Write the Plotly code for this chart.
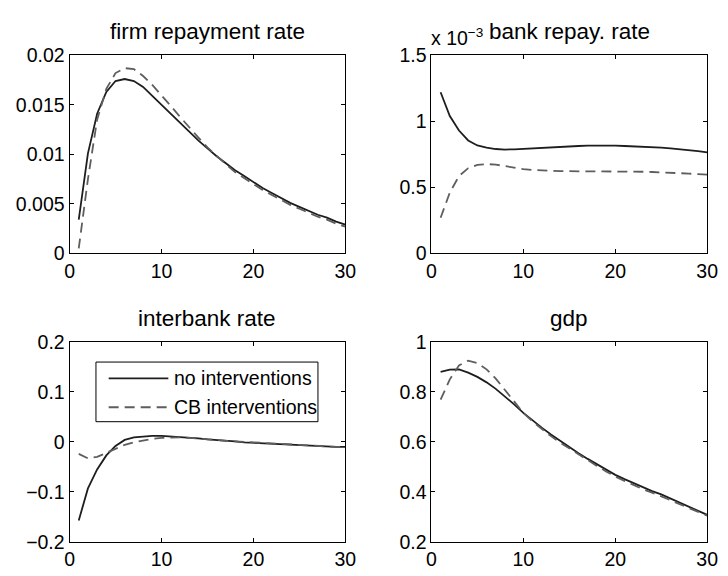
import plotly.graph_objects as go

# ---------------- data ----------------
t = list(range(1, 31))

firm_no = [0.0034, 0.0101, 0.0141, 0.0163, 0.0174, 0.0176, 0.0174, 0.0168, 0.0159, 0.0150,
           0.0141, 0.0131, 0.0122, 0.0114, 0.0106, 0.0098, 0.0091, 0.0084, 0.0078, 0.0072,
           0.0066, 0.0061, 0.0056, 0.0051, 0.0047, 0.0043, 0.0039, 0.0036, 0.0032, 0.0029]
firm_cb = [0.0005, 0.0075, 0.0135, 0.0166, 0.0182, 0.0187, 0.0186, 0.0179, 0.0170, 0.0160,
           0.0149, 0.0138, 0.0127, 0.0117, 0.0107, 0.0098, 0.0090, 0.0082, 0.0076, 0.0070,
           0.0064, 0.0059, 0.0054, 0.0049, 0.0045, 0.0041, 0.0037, 0.0034, 0.0030, 0.0027]

# bank repayment rate, in units of 1e-3
bank_no = [1.22, 1.04, 0.93, 0.855, 0.817, 0.800, 0.790, 0.786, 0.788, 0.792,
           0.797, 0.801, 0.805, 0.808, 0.811, 0.813, 0.815, 0.816, 0.816, 0.815,
           0.813, 0.811, 0.808, 0.804, 0.800, 0.795, 0.789, 0.782, 0.774, 0.765]
bank_cb = [0.27, 0.46, 0.585, 0.645, 0.670, 0.676, 0.672, 0.660, 0.648, 0.638,
           0.631, 0.627, 0.625, 0.623, 0.622, 0.622, 0.622, 0.622, 0.622, 0.621,
           0.620, 0.619, 0.618, 0.616, 0.614, 0.611, 0.608, 0.604, 0.600, 0.596]

ib_no = [-0.157, -0.093, -0.055, -0.027, -0.008, 0.004, 0.009, 0.011, 0.012, 0.012,
         0.011, 0.010, 0.008, 0.007, 0.005, 0.004, 0.002, 0.001, -0.001, -0.002,
         -0.003, -0.004, -0.005, -0.006, -0.007, -0.008, -0.009, -0.009, -0.010, -0.010]
ib_cb = [-0.024, -0.033, -0.030, -0.022, -0.013, -0.006, -0.001, 0.003, 0.006, 0.008,
         0.009, 0.009, 0.008, 0.007, 0.005, 0.004, 0.002, 0.001, -0.001, -0.002,
         -0.003, -0.004, -0.005, -0.006, -0.007, -0.008, -0.009, -0.009, -0.010, -0.010]

gdp_no = [0.880, 0.889, 0.890, 0.877, 0.860, 0.838, 0.812, 0.782, 0.750, 0.716,
          0.686, 0.657, 0.630, 0.604, 0.579, 0.555, 0.532, 0.510, 0.489, 0.468,
          0.451, 0.434, 0.418, 0.403, 0.390, 0.373, 0.356, 0.340, 0.324, 0.308]
gdp_cb = [0.769, 0.850, 0.906, 0.925, 0.915, 0.890, 0.853, 0.808, 0.762, 0.716,
          0.682, 0.651, 0.623, 0.597, 0.573, 0.549, 0.526, 0.504, 0.482, 0.461,
          0.444, 0.427, 0.411, 0.397, 0.383, 0.367, 0.351, 0.335, 0.320, 0.305]

titles = ["firm repayment rate", "bank repay. rate", "interbank rate", "gdp"]
series_names = ["no interventions", "CB interventions"]

x_ticks = [0, 10, 20, 30]
y1_ticks = [0, 0.005, 0.01, 0.015, 0.02]
y1_text = ["0", "0.005", "0.01", "0.015", "0.02"]
y2_ticks = [0, 0.5, 1, 1.5]
y2_text = ["0", "0.5", "1", "1.5"]
y3_ticks = [-0.2, -0.1, 0, 0.1, 0.2]
y3_text = ["\u22120.2", "\u22120.1", "0", "0.1", "0.2"]
y4_ticks = [0.2, 0.4, 0.6, 0.8, 1]
y4_text = ["0.2", "0.4", "0.6", "0.8", "1"]

# ---------------- styling ----------------
W, H = 728, 576
FONT = "Liberation Sans, Arial, Helvetica, sans-serif"
TICK_SIZE = 19.5
TITLE_SIZE = 22.5
SOLID = dict(color="#1e1e1e", width=1.8)
DASH = dict(color="#5e5e5e", width=1.8, dash="10px,6px")
STYLES = [SOLID, DASH]

xdom = [[66 / W, 348 / W], [436 / W, 718 / W]]
ydom = [[1 - 252 / H, 1 - 46 / H], [1 - 552 / H, 1 - 344 / H]]

panels = [
    ([firm_no, firm_cb], y1_ticks, y1_text, [0, 0.02], xdom[0], ydom[0]),
    ([bank_no, bank_cb], y2_ticks, y2_text, [0, 1.5], xdom[1], ydom[0]),
    ([ib_no, ib_cb], y3_ticks, y3_text, [-0.2, 0.2], xdom[0], ydom[1]),
    ([gdp_no, gdp_cb], y4_ticks, y4_text, [0.2, 1], xdom[1], ydom[1]),
]

fig = go.Figure()
layout = dict(
    width=W, height=H,
    margin=dict(l=0, r=0, t=0, b=0),
    paper_bgcolor="white", plot_bgcolor="white",
    font=dict(family=FONT, size=16, color="black"),
    showlegend=False,
)

axis_common = dict(showline=True, linecolor="black", linewidth=1, mirror="allticks",
                   ticks="inside", ticklen=4, tickcolor="black", showgrid=False,
                   zeroline=False, tickfont=dict(family=FONT, size=TICK_SIZE, color="black"))

annotations = []
shapes = []
for i, (ys, yt, ytxt, yr, xd, yd) in enumerate(panels):
    k = "" if i == 0 else str(i + 1)
    for s, y in enumerate(ys):
        fig.add_trace(go.Scatter(x=t, y=y, mode="lines", line=STYLES[s], name=series_names[s],
                                 xaxis="x" + k, yaxis="y" + k))
    layout["xaxis" + k] = dict(axis_common, domain=xd, range=[0, 30], tickvals=x_ticks,
                               anchor="y" + k)
    layout["yaxis" + k] = dict(axis_common, domain=yd, range=yr, tickvals=yt, ticktext=ytxt,
                               anchor="x" + k)
    annotations.append(dict(text=titles[i], xref="paper", yref="paper",
                            x=(xd[0] + xd[1]) / 2, y=yd[1] + 9.5 / H,
                            xanchor="center", yanchor="bottom", showarrow=False,
                            font=dict(family=FONT, size=TITLE_SIZE, color="black")))

# exponent label of the bank repayment panel
annotations.append(dict(text="x 10<sup>\u22123</sup>", xref="paper", yref="paper",
                        x=xdom[1][0] - 2 / W, y=ydom[0][1] + 4 / H, xanchor="left",
                        yanchor="bottom", showarrow=False,
                        font=dict(family=FONT, size=TICK_SIZE, color="black")))

# legend box (in the interbank panel), MATLAB style
box = [93, 365, 320, 427]  # px: left, top, right, bottom
shapes.append(dict(type="rect", xref="paper", yref="paper",
                   x0=box[0] / W, x1=box[2] / W, y0=1 - box[3] / H, y1=1 - box[1] / H,
                   line=dict(color="black", width=1), fillcolor="white", layer="above"))
rows = [382, 412]
for s, yrow in enumerate(rows):
    shapes.append(dict(type="line", xref="paper", yref="paper",
                       x0=106 / W, x1=167 / W, y0=1 - yrow / H, y1=1 - yrow / H,
                       line=STYLES[s], layer="above"))
    annotations.append(dict(text=series_names[s], xref="paper", yref="paper",
                            x=171 / W, y=1 - yrow / H, xanchor="left", yanchor="middle",
                            showarrow=False,
                            font=dict(family=FONT, size=TICK_SIZE, color="black")))

layout["annotations"] = annotations
layout["shapes"] = shapes
fig.update_layout(**layout)
fig.write_html("out.html")
